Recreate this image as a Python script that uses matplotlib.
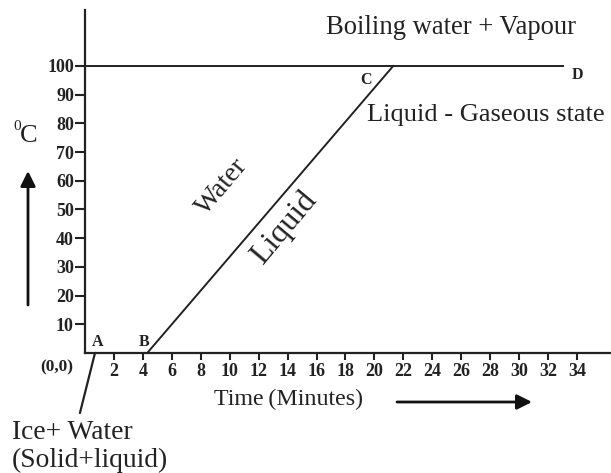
import matplotlib
matplotlib.use("Agg")
import matplotlib.pyplot as plt

plt.rcParams['font.family'] = ['Liberation Serif', 'DejaVu Serif']

# heating curve of water
heat_time = [4.3, 21.3]     # B -> C
heat_temp = [0, 100]
boil_time = [0, 33]         # 100 degC line up to D
boil_temp = [100, 100]

x_ticks = list(range(2, 35, 2))
y_ticks = list(range(10, 101, 10))

point_names = ['A', 'B', 'C', 'D']
point_x = [0.85, 4.1, 19.4, 34.0]
point_y = [4, 4, 95, 97]

W, H = 611, 473
fig = plt.figure(figsize=(W / 100, H / 100), dpi=100)
ax = fig.add_axes([85 / W, (H - 353) / H, (W - 85) / W, (353 - 10) / H])

ax.plot(heat_time, heat_temp, color='#222222', lw=1.4)
ax.plot(boil_time, boil_temp, color='#222222', lw=1.4)

ax.set_xlim(0, 36.35)
ax.set_ylim(0, 119.5)
for s in ['top', 'right']:
    ax.spines[s].set_visible(False)
for s in ['left', 'bottom']:
    ax.spines[s].set_linewidth(1.6)
    ax.spines[s].set_color('#222222')

ax.set_xticks(x_ticks)
ax.set_yticks(y_ticks)
ax.tick_params(axis='x', length=5, width=1.5, pad=2, labelsize=13, colors='#222222')
ax.tick_params(axis='y', length=7, width=1.5, pad=1, labelsize=13, colors='#222222')
for lab in ax.get_xticklabels() + ax.get_yticklabels():
    lab.set_fontweight('bold')

for name, px, py in zip(point_names, point_x, point_y):
    ax.text(px, py, name, fontsize=11.5, fontweight='bold', ha='center', va='center',
            color='#222222')

ax.text(-1.95, -5, '(0,0)', fontsize=12.5, fontweight='bold', ha='center', va='center',
        color='#222222', clip_on=False)

# pointer to the ice + water stage
ax.annotate('', xy=(0.69, 0), xytext=(-0.35, -20.9),
            arrowprops=dict(arrowstyle='-', color='#222222', lw=1.6,
                            shrinkA=0, shrinkB=0), annotation_clip=False)

ax.text(9.5, 57.8, 'Water', fontsize=20, rotation=50, rotation_mode='anchor',
        ha='center', va='center', color='#222222')
ax.text(13.8, 43.5, 'Liquid', fontsize=23, rotation=50, rotation_mode='anchor',
        ha='center', va='center', color='#222222')

def ftext(x, y, s, **kw):
    fig.text(x / W, 1 - y / H, s, color='#222222', va='center', **kw)

ftext(326, 28, 'Boiling water + Vapour', fontsize=19.2, ha='left')
ftext(367, 115, 'Liquid - Gaseous state', fontsize=19, ha='left')
ftext(214, 399, 'Time\u2009(Minutes)', fontsize=17.3, ha='left')
ftext(12, 432, 'Ice+ Water', fontsize=19.8, ha='left')
ftext(12, 460, '(Solid+liquid)', fontsize=19.8, ha='left')
ftext(17, 126, '0', fontsize=11, ha='center')
ftext(29, 136, 'C', fontsize=19, ha='center')

# direction arrows
fig.add_artist(matplotlib.patches.FancyArrowPatch(
    (397 / W, 1 - 402 / H), (532 / W, 1 - 402 / H), transform=fig.transFigure,
    arrowstyle='-|>,head_length=9,head_width=4.5', lw=2, color='#111111',
    mutation_scale=1, shrinkA=0, shrinkB=0))
fig.add_artist(matplotlib.patches.FancyArrowPatch(
    (28 / W, 1 - 305 / H), (28 / W, 1 - 171 / H), transform=fig.transFigure,
    arrowstyle='-|>,head_length=9,head_width=4.5', lw=2, color='#111111',
    mutation_scale=1, shrinkA=0, shrinkB=0))

fig.savefig('out.png', dpi=100)
